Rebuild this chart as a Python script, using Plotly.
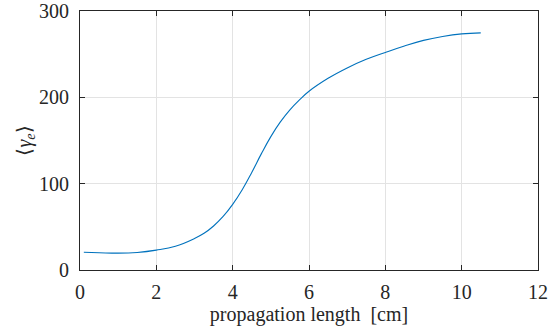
import plotly.graph_objects as go

x_cm = [0.1, 0.5, 1.0, 1.5, 2.0, 2.5, 3.0, 3.25, 3.5, 3.75, 4.0, 4.25, 4.5, 4.75, 5.0, 5.25, 5.5, 5.75, 6.0, 6.5, 7.0, 7.5, 8.0, 8.5, 9.0, 9.5, 10.0, 10.5]
gamma_e = [20.5, 20.0, 19.5, 20.3, 23.0, 27.5, 36.5, 42.5, 51.0, 62.0, 76.0, 93.0, 113.0, 134.5, 154.5, 171.5, 185.5, 197.0, 207.0, 222.0, 234.0, 244.0, 252.0, 259.5, 266.0, 270.5, 273.5, 274.7]

x_ticks = [0, 2, 4, 6, 8, 10, 12]
y_ticks = [0, 100, 200, 300]

FONT = "Liberation Serif, Times New Roman, serif"

fig = go.Figure()
fig.add_trace(go.Scatter(x=x_cm, y=gamma_e, mode="lines",
                         line=dict(color="#0072BD", width=1.1, shape="spline", smoothing=1.2),
                         showlegend=False))

axis_common = dict(
    showline=True, linecolor="#262626", linewidth=1, mirror="ticks",
    ticks="inside", ticklen=5, tickcolor="#262626", tickwidth=1,
    showgrid=True, gridcolor="#e3e3e3", gridwidth=1, zeroline=False,
    automargin=False,
    tickfont=dict(family=FONT, size=20, color="#262626"),
)

fig.update_xaxes(range=[0, 12], tickvals=x_ticks, ticklabelstandoff=4,
                 title=dict(text="propagation length  [cm]", standoff=4,
                            font=dict(family=FONT, size=20, color="#262626")),
                 **axis_common)
fig.update_yaxes(range=[0, 300], tickvals=y_ticks, ticklabelstandoff=6, **axis_common)

# y-axis title as a rotated annotation so it can sit exactly where the reference has it
fig.add_annotation(text="⟨<i>γ<sub>e</sub></i>⟩", xref="paper", yref="paper",
                   x=-0.12, y=0.5, xanchor="center", yanchor="middle",
                   textangle=-90, showarrow=False,
                   font=dict(family=FONT, size=20, color="#262626"))

fig.update_layout(width=548, height=336, margin=dict(l=80, r=10, t=11, b=66),
                  font=dict(family=FONT, color="#262626"),
                  plot_bgcolor="white", paper_bgcolor="white")

# remove the page's default 8px body margin so the figure fills the window
fig.write_html("out.html", config={"displayModeBar": False},
               post_script="document.body.style.margin='0';")
